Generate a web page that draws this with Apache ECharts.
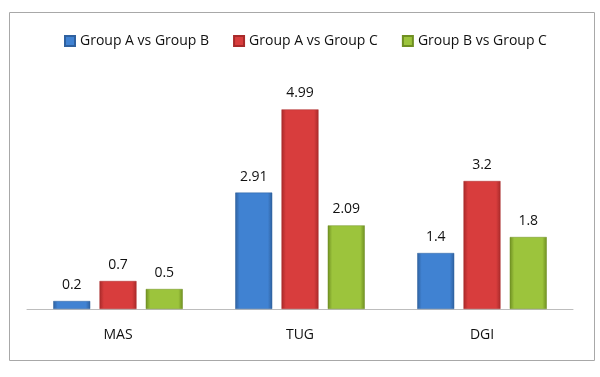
<!DOCTYPE html>
<html>
<head>
<meta charset="utf-8">
<script src="https://cdn.jsdelivr.net/npm/echarts@6/dist/echarts.min.js"></script>
<style>
  html, body { margin: 0; padding: 0; background: #fff; }
  #chart { width: 600px; height: 377px; }
</style>
</head>
<body>
<div id="chart"></div>
<script>
const categories = ['MAS', 'TUG', 'DGI'];
const seriesNames = ['Group A vs Group B', 'Group A vs Group C', 'Group B vs Group C'];
const abValues = [0.2, 2.91, 1.4];
const acValues = [0.7, 4.99, 3.2];
const bcValues = [0.5, 2.09, 1.8];

// bevel-ish look: darker edges, lighter middle
const bevel = (edge, mid) => new echarts.graphic.LinearGradient(0, 0, 1, 0, [
    { offset: 0, color: edge },
    { offset: 0.12, color: mid },
    { offset: 0.88, color: mid },
    { offset: 1, color: edge }
]);

const palette = [
    { edge: '#2f619f', mid: '#4082d2', legend: '#3a74bd' },
    { edge: '#a82a2a', mid: '#d83d3d', legend: '#c43434' },
    { edge: '#6f8f22', mid: '#9cc43c', legend: '#8db334' }
];

const chart = echarts.init(document.getElementById('chart'));

const makeSeries = (name, values, i) => ({
    name: name,
    type: 'bar',
    data: values,
    barWidth: 37,
    barGap: '25%',
    itemStyle: {
        color: bevel(palette[i].edge, palette[i].mid),
        borderColor: palette[i].edge,
        borderWidth: 0.5
    },
    label: {
        show: true,
        position: 'top',
        distance: 9,
        fontSize: 14,
        color: '#111',
        fontFamily: 'Open Sans'
    }
});

chart.setOption({
    animation: false,
    textStyle: { fontFamily: 'Open Sans' },
    graphic: [{
        type: 'rect',
        shape: { x: 9.5, y: 12.5, width: 585, height: 348 },
        style: { fill: 'none', stroke: '#a8a8a8', lineWidth: 1 },
        z: -1
    }],
    color: palette.map(p => p.legend),
    legend: {
        top: 29,
        left: 59,
        itemWidth: 10,
        itemHeight: 10,
        itemGap: 24,
        icon: 'rect',
        textStyle: { fontSize: 14, color: '#111', fontFamily: 'Open Sans' },
        data: seriesNames
    },
    grid: { left: 27, right: 27, top: 69, bottom: 68 },
    xAxis: {
        type: 'category',
        data: categories,
        axisLine: { lineStyle: { color: '#bdbdbd', width: 1 } },
        axisTick: { show: false },
        axisLabel: { margin: 19, fontSize: 14, color: '#111', fontFamily: 'Open Sans' }
    },
    yAxis: {
        type: 'value',
        min: 0,
        max: 6,
        show: false
    },
    series: [
        makeSeries(seriesNames[0], abValues, 0),
        makeSeries(seriesNames[1], acValues, 1),
        makeSeries(seriesNames[2], bcValues, 2)
    ]
});
</script>
</body>
</html>
